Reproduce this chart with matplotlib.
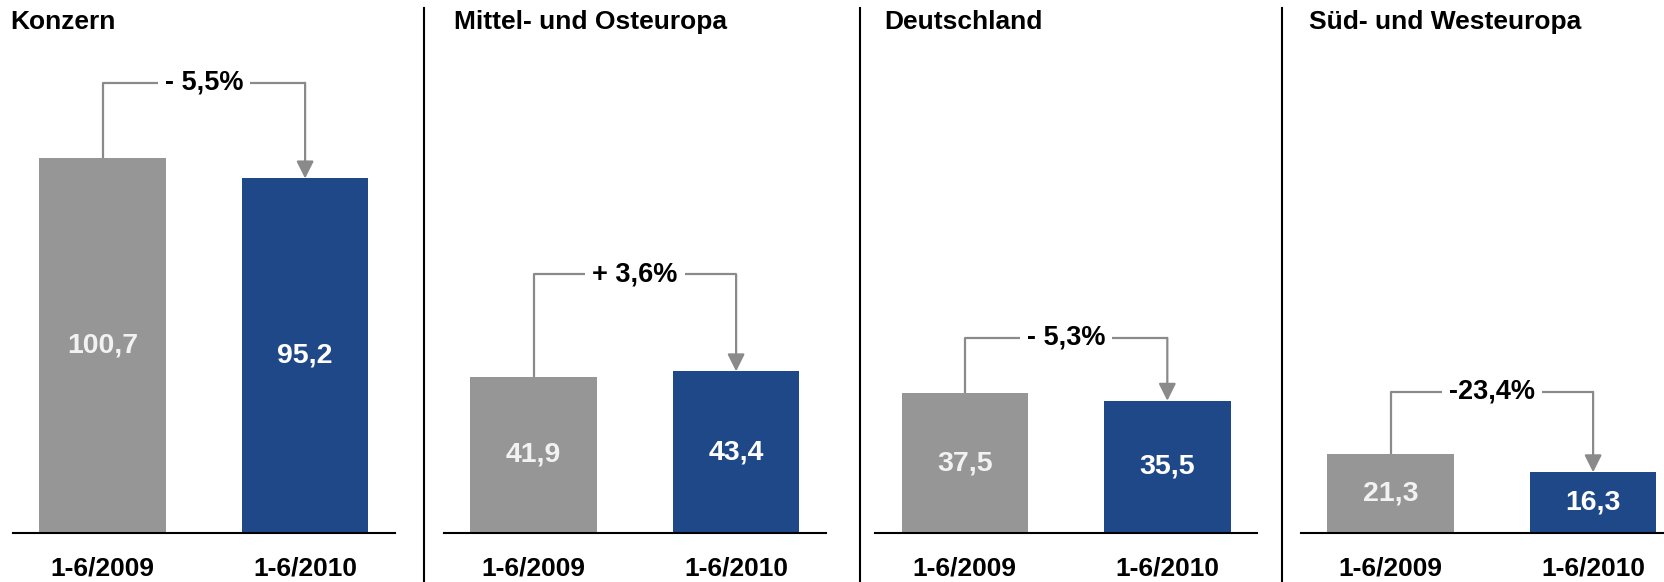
import matplotlib
matplotlib.use("Agg")
import matplotlib.pyplot as plt
from matplotlib.lines import Line2D

plt.rcParams['font.family'] = ['Liberation Sans', 'DejaVu Sans']
plt.rcParams['font.weight'] = 'bold'

# Data (Mio. EUR, half-year)
regions = ['Konzern', 'Mittel- und Osteuropa', 'Deutschland', 'Süd- und Westeuropa']
periods = ['1-6/2009', '1-6/2010']
values_2009 = [100.7, 41.9, 37.5, 21.3]
values_2010 = [95.2, 43.4, 35.5, 16.3]
changes = ['- 5,5%', '+ 3,6%', '- 5,3%', '-23,4%']
bracket_levels = [120.9, 69.5, 52.4, 37.9]

gray = '#969696'
blue = '#1F4889'
line_gray = '#8A8A8A'

W, H = 1665, 582
fig = plt.figure(figsize=(W / 100, H / 100), dpi=100)

# layout in pixels
step = 202.5          # distance between bar centers
xmin, xmax = -0.444, 1.445
ax_w = (xmax - xmin) * step
base_y = 533          # baseline, pixels from top
px_per_unit = 3.724
ax_lefts = [12.7, 443.7, 874.9, 1300.7]
title_x = [10.6, 454.5, 884.6, 1309]
dividers = [423.7, 860, 1282]


def fmt(v):
    return f"{v:.1f}".replace('.', ',')


for i, region in enumerate(regions):
    ax = fig.add_axes([ax_lefts[i] / W, (H - base_y) / H, ax_w / W, base_y / H])
    ax.set_xlim(xmin, xmax)
    ax.set_ylim(0, base_y / px_per_unit)

    v1, v2 = values_2009[i], values_2010[i]
    ax.bar([0, 1], [v1, v2], width=0.625, color=[gray, blue], zorder=2)

    # value labels inside bars
    ax.text(0, v1 / 2, fmt(v1), ha='center', va='center', color='#F2F2F2', fontsize=20.5, fontweight='bold')
    ax.text(1, v2 / 2, fmt(v2), ha='center', va='center', color='white', fontsize=20.5, fontweight='bold')

    # change bracket with arrow
    lvl = bracket_levels[i]
    ax.plot([0, 0, 1], [v1, lvl, lvl], color=line_gray, lw=1.6, zorder=3, solid_capstyle='butt')
    ax.annotate('', xy=(1, v2), xytext=(1, lvl),
                arrowprops=dict(arrowstyle='-|>', color=line_gray, lw=1.6,
                                mutation_scale=26, shrinkA=0, shrinkB=0))
    ax.text(0.5, lvl, changes[i], ha='center', va='center', fontsize=19.5, fontweight='bold',
            zorder=4, bbox=dict(fc='white', ec='none', pad=5))

    ax.set_xticks([0, 1])
    ax.set_xticklabels(periods, fontsize=19, fontweight='bold')
    ax.tick_params(axis='x', length=0, pad=17)
    ax.set_yticks([])
    for s in ['left', 'right', 'top']:
        ax.spines[s].set_visible(False)
    ax.spines['bottom'].set_linewidth(1.5)
    ax.spines['bottom'].set_color('black')

    fig.text(title_x[i] / W, 1 - 22 / H, region, ha='left', va='center', fontsize=19, fontweight='bold')

for x in dividers:
    fig.add_artist(Line2D([x / W, x / W], [1 - 8 / H, 0], transform=fig.transFigure,
                          color='black', lw=1.5))

fig.savefig('out.png', dpi=100)
